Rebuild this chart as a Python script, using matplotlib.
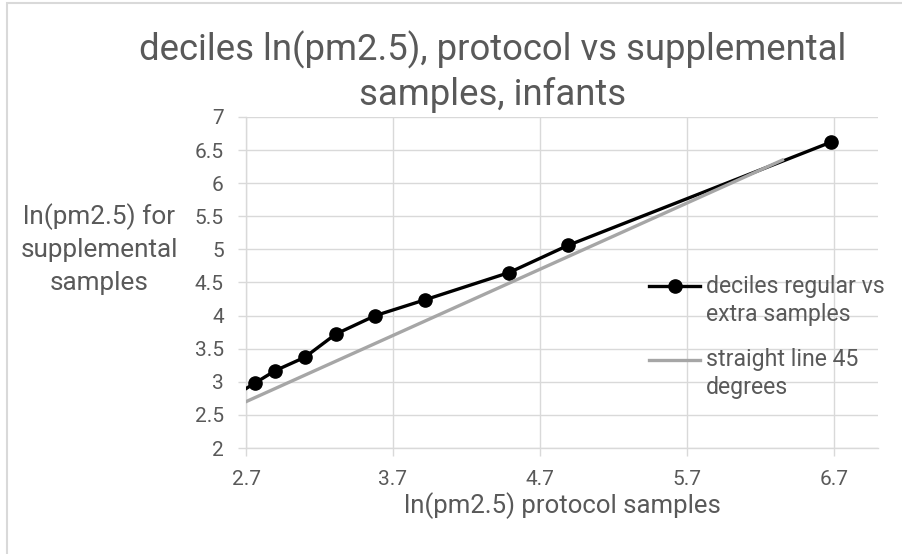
import matplotlib.pyplot as plt
from matplotlib.patches import Rectangle

# deciles of ln(pm2.5), protocol samples (x) vs supplemental samples (y)
protocol = [2.55, 2.76, 2.90, 3.10, 3.31, 3.58, 3.92, 4.49, 4.89, 6.68]
supplemental = [2.69, 2.98, 3.17, 3.37, 3.72, 4.00, 4.24, 4.65, 5.06, 6.62]
# 45 degree reference line
line45 = [2.70, 6.35]

x_ticks = [2.7, 3.7, 4.7, 5.7, 6.7]
y_ticks = [2, 2.5, 3, 3.5, 4, 4.5, 5, 5.5, 6, 6.5, 7]
x_tick_labels = ["2.7", "3.7", "4.7", "5.7", "6.7"]
y_tick_labels = ["2", "2.5", "3", "3.5", "4", "4.5", "5", "5.5", "6", "6.5", "7"]

title_lines = ["deciles ln(pm2.5), protocol vs supplemental", "samples, infants"]
x_title = "ln(pm2.5) protocol samples"
y_title_lines = ["ln(pm2.5) for", "supplemental", "samples"]
legend_lines = [["deciles regular vs", "extra samples"], ["straight line 45", "degrees"]]

TXT = "#595959"
GRID = "#d9d9d9"
W, H = 902, 554
plt.rcParams['font.family'] = ['Roboto', 'DejaVu Sans']

fig = plt.figure(figsize=(W/100, H/100), dpi=100)
ax = fig.add_axes([246/W, 1-448/H, (878-246)/W, (448-117)/H])

ax.plot(protocol, supplemental, color="black", lw=2.4, marker="o", ms=9.5, zorder=3)
ax.plot(line45, line45, color="#a6a6a6", lw=2.4, zorder=4)

ax.set_xlim(2.7, 7.0)
ax.set_ylim(2, 7)
ax.set_xticks(x_ticks, x_tick_labels)
ax.set_yticks(y_ticks, y_tick_labels)
ax.grid(True, color=GRID, lw=1.0, zorder=0)
ax.set_axisbelow(True)
for s in ["top", "right"]:
    ax.spines[s].set_visible(False)
for s in ["left", "bottom"]:
    ax.spines[s].set_color(GRID)
    ax.spines[s].set_linewidth(1.0)
ax.tick_params(colors=GRID, labelcolor=TXT, labelsize=15, length=6, width=1.0, pad=10)


def fit(t, target_px):
    # scale the font so the text is as wide as in the reference
    fig.canvas.draw()
    w = t.get_window_extent().width
    t.set_fontsize(t.get_fontsize() * target_px / w)
    return t.get_fontsize()


t1 = fig.text(493/W, 1-60/H, title_lines[0], ha="center", va="baseline", fontsize=22, color=TXT)
fs = fit(t1, 707)
fig.text(493/W, 1-105/H, title_lines[1], ha="center", va="baseline", fontsize=fs, color=TXT)

tx = fig.text(562/W, 1-513/H, x_title, ha="center", va="baseline", fontsize=16, color=TXT)
fit(tx, 317)

ty = [fig.text(99/W, 1-(217+33*i)/H, s, ha="center", va="center", fontsize=16, color=TXT)
      for i, s in enumerate(y_title_lines)]
fs = fit(ty[1], 158)
for t in ty:
    t.set_fontsize(fs)

# legend, drawn by hand to keep Excel's layout
ax.plot([5.44, 5.79], [4.44, 4.44], color="black", lw=2.4, zorder=5)
ax.plot([5.62], [4.44], color="black", marker="o", ms=9.5, zorder=5)
ax.plot([5.44, 5.79], [3.33, 3.33], color="#a6a6a6", lw=2.4, zorder=5)
leg_y = [[4.44, 4.01], [3.33, 2.91]]
leg = []
for lines, ys in zip(legend_lines, leg_y):
    for s, y in zip(lines, ys):
        leg.append(ax.text(5.83, y, s, ha="left", va="center", fontsize=14.5,
                           color=TXT, zorder=6, clip_on=False))
fs = fit(leg[0], 178)
for t in leg:
    t.set_fontsize(fs)

fig.add_artist(Rectangle((7/W, -0.1), 1.2, 1.1 - 3/H, transform=fig.transFigure,
                         fill=False, edgecolor=GRID, lw=1.5))

fig.savefig("out.png", dpi=100)
